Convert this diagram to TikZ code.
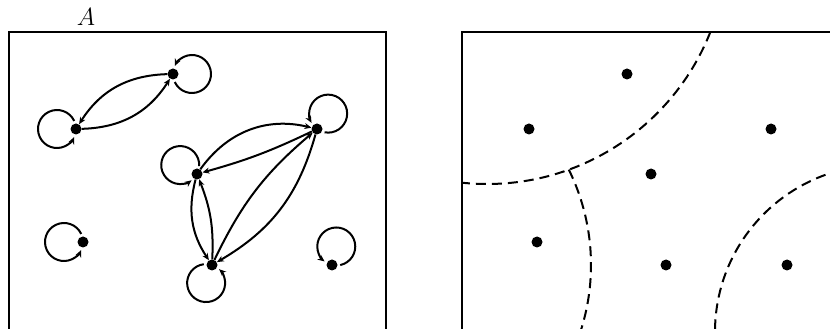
\documentclass[tikz,border=0pt]{standalone}
\usetikzlibrary{arrows.meta}
\newcommand{\selfloop}[2]{\draw[edge] (#1) ++(#2:19) ++({#2+205}:19) arc[start angle={#2+205}, delta angle=310, radius=19];}
\begin{document}
\begin{tikzpicture}[x=1pt,y=1pt,
  dot/.style={circle,fill=black,inner sep=0pt,minimum size=11pt},
  edge/.style={line width=2pt,-{Stealth[length=7pt,width=6pt]}},
  box/.style={line width=2pt},
  bound/.style={line width=2pt,dash pattern=on 10pt off 6pt}]
\useasboundingbox (0,0) rectangle (830,329);
\begin{scope}
  \clip (0,0) rectangle (830,329);
  \draw[box] (9,-20) -- (9,297) -- (386,297) -- (386,-20);
  \draw[box] (462,-20) -- (462,297) -- (850,297);
\end{scope}
\node (lab) at (86,312) {\fontsize{24}{26}\selectfont $A$};
% left panel
\node[dot] (n1) at (173,255) {};
\node[dot] (n2) at (76,200) {};
\node[dot] (n3) at (317,200) {};
\node[dot] (n4) at (197,155) {};
\node[dot] (n5) at (83,87) {};
\node[dot] (n6) at (212,64) {};
\node[dot] (n7) at (332,64) {};
\selfloop{n1}{0}
\selfloop{n2}{180}
\selfloop{n3}{54}
\selfloop{n4}{152}
\selfloop{n5}{180}
\selfloop{n6}{252}
\selfloop{n7}{77}
\draw[edge] (n1) to[bend right=28] (n2);
\draw[edge] (n2) to[bend right=28] (n1);
\draw[edge] (n4) to[bend left=34] (n3);
\draw[edge] (n3) to[bend left=5] (n4);
\draw[edge] (n4) to[bend right=24] (n6);
\draw[edge] (n6) to[bend right=12] (n4);
\draw[edge] (n6) to[bend left=12] (n3);
\draw[edge] (n3) to[bend left=22] (n6);
% right panel
\node[dot] (m1) at (627,255) {};
\node[dot] (m2) at (529,200) {};
\node[dot] (m3) at (771,200) {};
\node[dot] (m4) at (651,155) {};
\node[dot] (m5) at (537,87) {};
\node[dot] (m6) at (666,64) {};
\node[dot] (m7) at (787,64) {};
\begin{scope}
  \clip (462,0) rectangle (830,297);
  \draw[bound] (487,385) circle[radius=240];
  \draw[bound] (375,64) ++(26.2:216) arc[start angle=26.2,end angle=-35,radius=216];
  \draw[bound] (882,-3) circle[radius=167];
\end{scope}
\end{tikzpicture}
\end{document}
